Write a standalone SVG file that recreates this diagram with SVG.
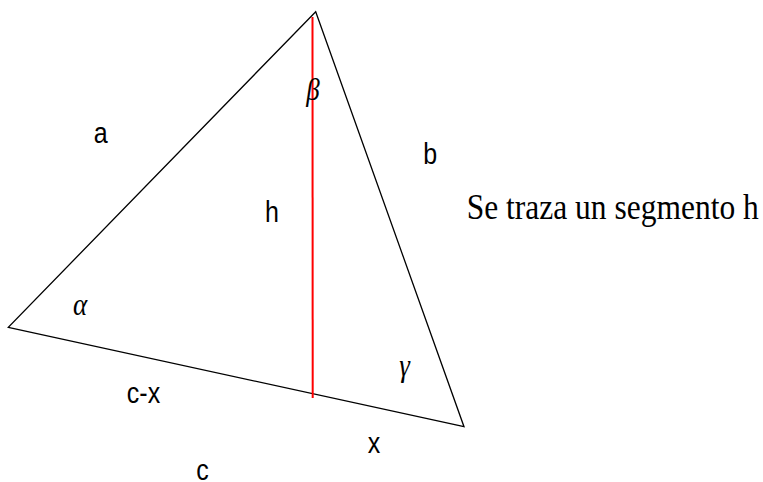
<svg xmlns="http://www.w3.org/2000/svg" width="763" height="482" viewBox="0 0 763 482">
<style>
.edge{fill:none;stroke:#000;stroke-width:1.3;stroke-linejoin:miter}
.alt{stroke:#ff0000;stroke-width:2;fill:none}
.lbl{font-family:"Liberation Sans",Arial,sans-serif;font-size:25px;fill:#000;text-anchor:middle}
.greek{font-family:"Liberation Serif","DejaVu Serif",serif;font-style:italic;font-size:27px;fill:#000;text-anchor:middle}
.note{font-family:"Liberation Serif","Times New Roman",serif;font-size:31.5px;fill:#000}
</style>
<rect width="763" height="482" fill="#fff"/>
<g id="connectors">
<polygon class="edge" points="315.7,11.7 8.3,327.3 464,426.7"/>
<line class="alt" x1="312.5" y1="17" x2="312.7" y2="398"/>
</g>
<g id="labels">
<g id="label-a" transform="translate(100.8,143) scale(1,1.15)"><text class="lbl">a</text></g>
<g id="label-b" transform="translate(430.3,164) scale(1,1.15)"><text class="lbl">b</text></g>
<g id="label-h" transform="translate(272,221.7) scale(1,1.15)"><text class="lbl">h</text></g>
<g id="label-cx" transform="translate(143.5,403.3) scale(1,1.15)"><text class="lbl">c-x</text></g>
<g id="label-x" transform="translate(374,453.3) scale(1,1.15)"><text class="lbl">x</text></g>
<g id="label-c" transform="translate(202.5,479.5) scale(1,1.15)"><text class="lbl">c</text></g>
<g id="label-beta" transform="translate(313,100) scale(1,1.15)"><text class="greek">β</text></g>
<g id="label-alpha" transform="translate(80,315) scale(1,1.15)"><text class="greek">α</text></g>
<g id="label-gamma" transform="translate(404.5,376) scale(1,1.15)"><text class="greek">γ</text></g>
</g>
<g id="note" transform="translate(466.7,219) scale(1,1.15)"><text class="note">Se traza un segmento h</text></g>
</svg>
